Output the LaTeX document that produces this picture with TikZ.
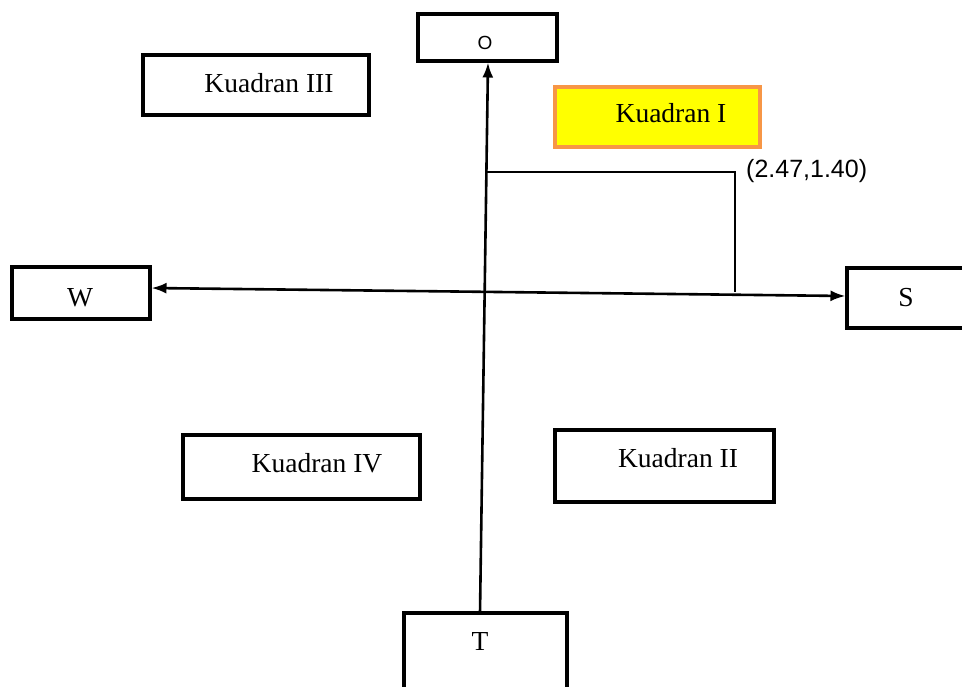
\documentclass[tikz,border=0pt]{standalone}
\usepackage{fontspec}
\setmainfont{Liberation Serif}
\newfontfamily\arialf{Liberation Sans}
\usetikzlibrary{arrows.meta}
\definecolor{kuning}{RGB}{255,255,0}
\definecolor{oranye}{RGB}{247,150,70}
\begin{document}
\begin{tikzpicture}[x=1pt,y=-1pt,
  box/.style={draw,line width=#1,inner sep=0pt},
  box/.default=3pt,
  lbl/.style={inner sep=0pt,anchor=base,font=\fontsize{27.5}{31}\selectfont},
  conn/.style={line width=2.6pt},
  tip/.style={-{Latex[length=15pt,width=11pt]}}]
\useasboundingbox (0,0) rectangle (962,686);
% boxes
\node[box=4pt,minimum width=139pt,minimum height=47pt] (O) at (487.5,37.5) {};
\node[box=4.5pt,minimum width=226pt,minimum height=60pt] (K3) at (256,85) {};
\node[box=3.5pt,draw=oranye,fill=kuning,minimum width=205pt,minimum height=60pt] (K1) at (657.5,117) {};
\node[box=3.2pt,minimum width=138pt,minimum height=52pt] (W) at (81,293) {};
\node[box=3.2pt,minimum width=128pt,minimum height=60pt] (S) at (911,298) {};
\node[box=3.2pt,minimum width=163pt,minimum height=90pt] (T) at (485.5,658) {};
\node[box=4.5pt,minimum width=237pt,minimum height=64pt] (K4) at (301.5,467) {};
\node[box=4.5pt,minimum width=219pt,minimum height=72pt] (K2) at (664.5,466) {};
% labels
\node[inner sep=0pt,anchor=base,font=\arialf\fontsize{19}{22}\selectfont] (Ot) at (485,49.5) {O};
\node[lbl] (K3t) at (269,92) {Kuadran III};
\node[lbl] (K1t) at (671,122) {Kuadran I};
\node[lbl] (K4t) at (317,472) {Kuadran IV};
\node[lbl] (K2t) at (678,467) {Kuadran II};
\node[lbl] (Wt) at (80,306) {W};
\node[lbl] (St) at (906,306) {S};
\node[lbl] (Tt) at (480,650) {T};
\node[inner sep=0pt,anchor=base west,font=\arialf\fontsize{25}{29}\selectfont] (pt) at (746,177) {(2.47,1.40)};
% connectors
\coordinate (Tb) at (480,613);
\coordinate (Ob) at (488,62.5);
\coordinate (Sl) at (845.5,296);
\coordinate (Wr) at (151.5,288);
\draw[conn,tip] (Tb) -- (Ob);
\draw[conn,{Latex[length=15pt,width=11pt]}-{Latex[length=15pt,width=11pt]}] (Wr) -- (Sl);
\coordinate (p1) at (485,172);
\coordinate (p2) at (735,172);
\coordinate (p3) at (735,292);
\draw[conn] (p1) -- (p2) -- (p3);
\end{tikzpicture}
\end{document}
